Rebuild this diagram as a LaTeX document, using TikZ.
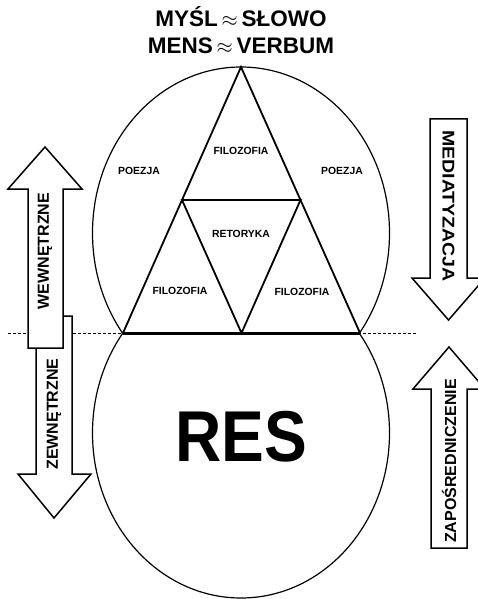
\documentclass[tikz,border=0pt]{standalone}
\usepackage{fontspec}
\setmainfont{Liberation Sans}
\usetikzlibrary{calc}

\begin{document}
\begin{tikzpicture}[x=1pt,y=-1pt,thick,
  small text/.style={font=\bfseries\fontsize{10.4}{12}\selectfont},
  arrow text/.style={font=\bfseries\fontsize{16}{19}\selectfont},
  title text/.style={font=\bfseries\fontsize{22.5}{27}\selectfont,anchor=base},
  sphere/.style={line width=1.2pt},
  wedge/.style={line width=1.8pt,line join=miter},
  block arrow/.style={draw,fill=white,line width=1.5pt,line join=miter}]

  \useasboundingbox (0,0) rectangle (478,599);

  % spheres, each cut at the dividing line
  \begin{scope}
    \clip (0,0) rectangle (478,333);
    \draw[sphere] (241,233) ellipse [x radius=148.5pt,y radius=166pt];
  \end{scope}
  \begin{scope}
    \clip (0,333) rectangle (478,599);
    \draw[sphere] (241,433) ellipse [x radius=148.5pt,y radius=165pt];
  \end{scope}

  % dividing line
  \coordinate (cut west) at (8,333);
  \coordinate (cut east) at (417,333);
  \draw[dash pattern=on 3pt off 2pt,line width=1pt] (cut west) -- (cut east);

  % triangles
  \coordinate (apex) at (241,67);
  \coordinate (base west) at (123,333);
  \coordinate (base east) at (360,333);
  \coordinate (mid west) at ($(apex)!0.5!(base west)$);
  \coordinate (mid east) at ($(apex)!0.5!(base east)$);
  \coordinate (mid base) at ($(base west)!0.5!(base east)$);
  \draw[wedge] (base west) -- (apex) -- (base east);
  \draw[wedge] (mid west) -- (mid east) -- (mid base) -- cycle;
  \draw[line width=3pt] (base west) -- (base east);

  % arrows
  \draw[block arrow] (36,316) -- (72,316) -- (72,474) -- (91,474) -- (54,518)
    -- (18,474) -- (36,474) -- cycle;
  \draw[block arrow] (28,348) -- (28,189) -- (8,189) -- (45,147) -- (82,189)
    -- (63,189) -- (63,348) -- cycle;
  \draw[block arrow] (430,119) -- (467,119) -- (467,278) -- (485,278) -- (448.5,320)
    -- (412,278) -- (430,278) -- cycle;
  \draw[block arrow] (431,548) -- (431,389) -- (413,389) -- (449,347) -- (485,389)
    -- (467,389) -- (467,548) -- cycle;

  \node[title text] (mysl) at (241,27) {MYŚL\,$\approx$\,SŁOWO};
  \node[title text] (mens) at (241,54) {MENS\,$\approx$\,VERBUM};

  \node[small text] (filo top) at (241,151) {FILOZOFIA};
  \node[small text] (poezja west) at (139,171) {POEZJA};
  \node[small text] (poezja east) at (342,171) {POEZJA};
  \node[small text] (retoryka) at (241,234) {RETORYKA};
  \node[small text] (filo west) at (180,291) {FILOZOFIA};
  \node[small text] (filo east) at (302,292) {FILOZOFIA};

  \node[font=\bfseries\fontsize{72}{80}\selectfont] (res) at (241,437) {\scalebox{0.89}[1]{RES}};

  \node[arrow text,rotate=90] (wew) at (45,251) {WEWNĘTRZNE};
  \node[arrow text,rotate=90] (zew) at (54,414) {ZEWNĘTRZNE};
  \node[arrow text,rotate=-90] (media) at (448.5,206) {\scalebox{1.15}[1]{\fontsize{17}{20}\selectfont MEDIATYZACJA}};
  \node[arrow text,rotate=90] (zapo) at (449,461) {ZAPOŚREDNICZENIE};
\end{tikzpicture}
\end{document}
